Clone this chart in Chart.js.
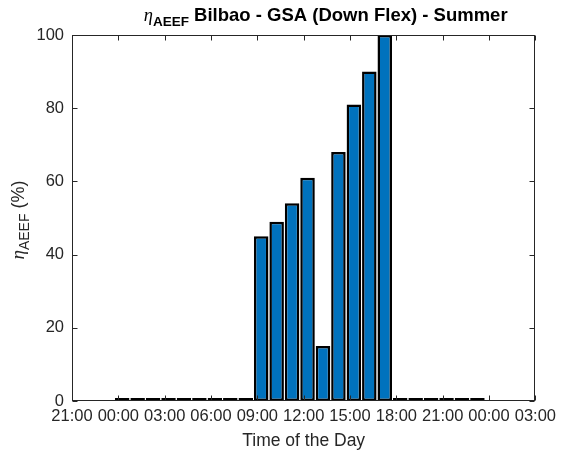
<!DOCTYPE html>
<html>
<head>
<meta charset="utf-8">
<script src="https://cdn.jsdelivr.net/npm/chart.js@4.4.0/dist/chart.umd.min.js"></script>
<style>
  html, body { margin: 0; padding: 0; background: #fff; }
</style>
</head>
<body>
<canvas id="etaChart" width="562" height="457"></canvas>
<script>
// hourly readings (time stamp of each bar) and efficiency in %
const times = ['00:15', '01:15', '02:15', '03:15', '04:15', '05:15', '06:15', '07:15',
               '08:15', '09:15', '10:15', '11:15', '12:15', '13:15', '14:15', '15:15',
               '16:15', '17:15', '18:15', '19:15', '20:15', '21:15', '22:15', '23:15'];
const eta = [0, 0, 0, 0, 0, 0, 0, 0,
             0, 45, 49, 54, 61, 15, 68, 81,
             90, 100, 0, 0, 0, 0, 0, 0];
// axis ticks in hours from midnight (-3 = 21:00 the day before)
const xTicks = [-3, 0, 3, 6, 9, 12, 15, 18, 21, 24, 27];
const yTicks = [0, 20, 40, 60, 80, 100];

const family = 'Arial, "Liberation Sans", Helvetica, sans-serif';
const ink = '#262626';

const toHours = t => { const [h, m] = t.split(':').map(Number); return h + m / 60; };
const hhmm = v => String(((v % 24) + 24) % 24).padStart(2, '0') + ':00';

// draw a run of text pieces (for subscripts) starting at x
function drawRich(ctx, parts, x, y) {
  for (const p of parts) {
    ctx.font = p.font;
    ctx.fillText(p.text, x, y + (p.dy || 0));
    x += ctx.measureText(p.text).width;
  }
}
function richWidth(ctx, parts) {
  let w = 0;
  for (const p of parts) { ctx.font = p.font; w += ctx.measureText(p.text).width; }
  return w;
}

const axesBox = {
  id: 'axesBox',
  afterDatasetsDraw(chart) {
    const {ctx, chartArea: a, scales: {x, y}} = chart;
    const L = Math.round(a.left) + 0.5, R = Math.round(a.right) - 0.5;
    const T = Math.round(a.top) + 0.5, B = Math.round(a.bottom) - 0.5;
    ctx.save();
    ctx.strokeStyle = ink;
    ctx.lineWidth = 1;
    ctx.strokeRect(L, T, R - L, B - T);
    const tl = 5;
    ctx.beginPath();
    xTicks.forEach(v => {
      const px = Math.round(x.getPixelForValue(v)) + 0.5;
      ctx.moveTo(px, B); ctx.lineTo(px, B - tl);
      ctx.moveTo(px, T); ctx.lineTo(px, T + tl);
    });
    yTicks.forEach(v => {
      const py = Math.round(y.getPixelForValue(v)) + 0.5;
      ctx.moveTo(L, py); ctx.lineTo(L + tl, py);
      ctx.moveTo(R, py); ctx.lineTo(R - tl, py);
    });
    ctx.stroke();
    ctx.restore();
  },
  afterDraw(chart) {
    const {ctx, chartArea: a} = chart;
    ctx.save();
    ctx.fillStyle = '#000';
    ctx.textBaseline = 'alphabetic';
    const title = [
      {text: 'η', font: 'italic 18.5px "Liberation Serif", serif'},
      {text: 'AEEF', font: 'bold 13.5px ' + family, dy: 5},
      {text: ' Bilbao - GSA (Down Flex) - Summer', font: 'bold 18.5px ' + family}
    ];
    const tw = richWidth(ctx, title);
    drawRich(ctx, title, (a.left + a.right) / 2 + 22 - tw / 2, 21);

    // y axis label, rotated
    ctx.fillStyle = ink;
    const ylab = [
      {text: 'η', font: 'italic 19px "Liberation Serif", serif'},
      {text: 'AEEF', font: '14px ' + family, dy: 5},
      {text: ' (%)', font: '18px ' + family}
    ];
    const yw = richWidth(ctx, ylab);
    ctx.translate(24, (a.top + a.bottom) / 2 + 2);
    ctx.rotate(-Math.PI / 2);
    drawRich(ctx, ylab, -yw / 2, 0);
    ctx.restore();
  }
};

new Chart(document.getElementById('etaChart'), {
  type: 'bar',
  data: {
    datasets: [{
      data: times.map((t, i) => ({x: toHours(t), y: eta[i]})),
      backgroundColor: '#0072BD',
      borderColor: '#000000',
      borderWidth: 2.5,
      borderSkipped: false,
      minBarLength: 3,
      barPercentage: 0.94,
      categoryPercentage: 1.0,
      clip: false
    }]
  },
  options: {
    responsive: false,
    animation: false,
    layout: {padding: {top: 35, right: 21, left: 0, bottom: 0}},
    plugins: {legend: {display: false}, tooltip: {enabled: false}, title: {display: false}},
    scales: {
      x: {
        type: 'linear',
        offset: false,
        min: -3,
        max: 27,
        afterBuildTicks: s => { s.ticks = xTicks.map(v => ({value: v})); },
        afterFit: s => { s.height = 56; },
        grid: {display: false, drawTicks: false},
        border: {display: false},
        ticks: {
          callback: v => hhmm(v),
          color: ink,
          padding: 6,
          maxRotation: 0,
          autoSkip: false,
          font: {family: family, size: 16.5}
        },
        title: {
          display: true,
          text: 'Time of the Day',
          color: ink,
          padding: {top: 0, bottom: 5},
          font: {family: family, size: 17.5}
        }
      },
      y: {
        min: 0,
        max: 100,
        afterBuildTicks: s => { s.ticks = yTicks.map(v => ({value: v})); },
        afterFit: s => { s.width = 72; },
        grid: {display: false, drawTicks: false},
        border: {display: false},
        ticks: {
          color: ink,
          padding: 8,
          font: {family: family, size: 16.5}
        }
      }
    }
  },
  plugins: [axesBox]
});
</script>
</body>
</html>
